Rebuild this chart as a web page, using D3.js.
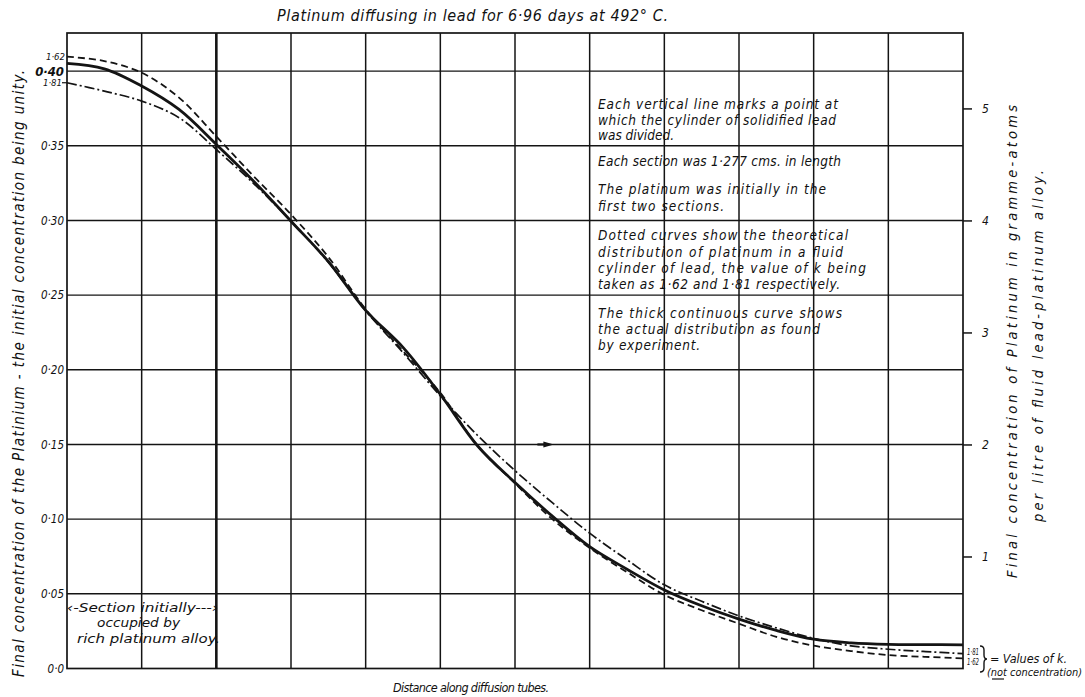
<!DOCTYPE html>
<html><head><meta charset="utf-8">
<script src="https://cdn.jsdelivr.net/npm/d3@7"></script>
<style>
body{margin:0;background:#fff}
svg{display:block}
text{font-family:"DejaVu Sans Condensed","DejaVu Sans","Liberation Sans",Arial,sans-serif;font-style:italic;fill:#111}
</style>
</head><body>
<svg id="c" width="1085" height="697"></svg>
<script>
// ---------- DATA ----------
const sections = [0,0.5,1,1.5,2,2.5,3,3.5,4,4.5,5,5.5,6,6.5,7,7.5,8,8.5,9,9.5,10,10.5,11,11.5,12];
const actual =     [0.4052,0.4015,0.3900,0.3743,0.3509,0.3263,0.2995,0.2725,0.2398,0.2150,0.1835,0.1490,0.1245,0.1020,0.0816,0.0665,0.0526,0.0420,0.0331,0.0255,0.0196,0.0172,0.0162,0.0160,0.0158];
const theoryK162 = [0.4097,0.4067,0.3989,0.3822,0.3562,0.3296,0.3040,0.2755,0.2405,0.2125,0.1846,0.1490,0.1240,0.1000,0.0807,0.0645,0.0493,0.0390,0.0300,0.0212,0.0153,0.0117,0.0090,0.0078,0.0068];
const theoryK181 = [0.3922,0.3866,0.3799,0.3688,0.3475,0.3247,0.2995,0.2720,0.2395,0.2115,0.1825,0.1560,0.1325,0.1110,0.0906,0.0728,0.0560,0.0450,0.0352,0.0272,0.0202,0.0152,0.0129,0.0113,0.0100];
const boundaries = [0,1,2,3,4,5,6,7,8,9,10,11,12];
const initialBoundary = 2;
const leftTicks = [0,0.05,0.10,0.15,0.20,0.25,0.30,0.35,0.40];
const leftTickLabels = ["0·0","0·05","0·10","0·15","0·20","0·25","0·30","0·35","0·40"];
const rightTicks = [1,2,3,4,5];
const rightTickLabels = ["1","2","3","4","5"];
const kLabels = ["1·62","1·81"];
const title = "Platinum  diffusing  in lead for 6·96 days at 492° C.";
const xTitle = "Distance along diffusion tubes.";
const yTitle = "Final concentration of the Platinium - the initial concentration being unity.";
const y2Title = ["Final concentration of Platinum in gramme-atoms","per litre of fluid lead-platinum alloy."];
const notes = [
 "Each vertical line marks a point at",
 "which the cylinder of solidified lead",
 "was divided.",
 "Each section was 1·277 cms. in length",
 "The platinum was initially in the",
 "first two sections.",
 "Dotted curves show the theoretical",
 "distribution of platinum in a fluid",
 "cylinder of lead, the value of k being",
 "taken as 1·62 and 1·81 respectively.",
 "The thick continuous curve shows",
 "the actual distribution as found",
 "by experiment."
];
const sectionNote = ["‹-Section initially---›","occupied by","rich platinum alloy."];
const kNote = ["= Values of k.","(not concentration)"];

// ---------- LAYOUT ----------
const svg = d3.select("#c");
const ink = "#141414";
const yTop = 0.4255;
const x = d3.scaleLinear().domain([0,12]).range([67,963]);
const y = d3.scaleLinear().domain([0,yTop]).range([668.5,33]);
const y2 = d3.scaleLinear().domain([0,yTop*40/3]).range([668.5,33]);

// horizontal grid
svg.append("g").selectAll("line").data(leftTicks.filter(d=>d>0)).join("line")
  .attr("x1",x(0)).attr("x2",x(12))
  .attr("y1",d=>y(d)).attr("y2",d=>y(d))
  .attr("stroke",ink).attr("stroke-width",1.4);
// vertical section lines
svg.append("g").selectAll("line").data(boundaries.filter(d=>d>0&&d<12)).join("line")
  .attr("x1",d=>x(d)).attr("x2",d=>x(d))
  .attr("y1",y(yTop)).attr("y2",y(0))
  .attr("stroke",ink).attr("stroke-width",d=>d===initialBoundary?2.6:1.5);
// frame
svg.append("rect").attr("x",x(0)).attr("y",y(yTop))
  .attr("width",x(12)-x(0)).attr("height",y(0)-y(yTop))
  .attr("fill","none").attr("stroke",ink).attr("stroke-width",1.7);

// left axis labels
const gl = svg.append("g").attr("transform",`translate(${x(0)},0)`)
  .call(d3.axisLeft(y).tickValues(leftTicks).tickFormat((d,i)=>leftTickLabels[i]).tickSize(0).tickPadding(3));
gl.select(".domain").remove();
gl.selectAll("text").style("font-family",'"DejaVu Sans Condensed","DejaVu Sans",sans-serif')
  .style("font-style","italic").style("font-size","11.5px").attr("fill",ink);
gl.selectAll(".tick").filter(d=>d===0.40).select("text").style("font-size","13px").style("font-weight","bold");

// right axis
const gr = svg.append("g").attr("transform",`translate(${x(12)},0)`)
  .call(d3.axisRight(y2).tickValues(rightTicks).tickFormat((d,i)=>rightTickLabels[i]).tickSize(9).tickPadding(10));
gr.select(".domain").remove();
gr.selectAll("line").attr("stroke",ink).attr("stroke-width",1.5);
gr.selectAll("text").style("font-family",'"DejaVu Sans Condensed","DejaVu Sans",sans-serif')
  .style("font-style","italic").style("font-size","12px").attr("fill",ink);

// curves
const line = d3.line().x((d,i)=>x(sections[i])).y(d=>y(d)).curve(d3.curveCatmullRom.alpha(0.5));
svg.append("path").datum(theoryK181).attr("d",line).attr("fill","none")
  .attr("stroke",ink).attr("stroke-width",1.7).attr("stroke-dasharray","10,3,2,3");
svg.append("path").datum(theoryK162).attr("d",line).attr("fill","none")
  .attr("stroke",ink).attr("stroke-width",1.8).attr("stroke-dasharray","7,4");
svg.append("path").datum(actual).attr("d",line).attr("fill","none")
  .attr("stroke",ink).attr("stroke-width",2.8);

// k labels at left
svg.append("text").attr("x",x(0)-2).attr("y",y(theoryK162[0])+3).attr("text-anchor","end")
  .style("font-size","9.5px").text(kLabels[0]);
svg.append("text").attr("x",x(0)-5).attr("y",y(theoryK181[0])+3.5).attr("text-anchor","end")
  .style("font-size","9.5px").text(kLabels[1]);
svg.append("line").attr("x1",x(0)-5).attr("x2",x(0)).attr("y1",y(theoryK181[0])).attr("y2",y(theoryK181[0]))
  .attr("stroke",ink).attr("stroke-width",1.2);

// k labels at right
const last = sections.length-1;
svg.append("text").attr("x",x(12)+4).attr("y",y(theoryK181[last])+1).attr("textLength",12).attr("lengthAdjust","spacingAndGlyphs")
  .style("font-size","9px").text(kLabels[1]);
svg.append("text").attr("x",x(12)+4).attr("y",y(theoryK162[last])+7).attr("textLength",12).attr("lengthAdjust","spacingAndGlyphs")
  .style("font-size","9px").text(kLabels[0]);
svg.append("path").attr("d","M980,646 q4,0 4,4 v5 q0,4 3,4 q-3,0 -3,4 v5 q0,4 -4,4")
  .attr("fill","none").attr("stroke",ink).attr("stroke-width",1.4);
svg.append("text").attr("x",990).attr("y",663).attr("textLength",77).attr("lengthAdjust","spacing")
  .style("font-size","12.5px").text(kNote[0]);
svg.append("text").attr("x",987).attr("y",676).attr("textLength",95).attr("lengthAdjust","spacingAndGlyphs")
  .style("font-size","10px").text(kNote[1]);
svg.append("line").attr("x1",992).attr("x2",1004).attr("y1",679).attr("y2",679).attr("stroke",ink).attr("stroke-width",1.2);

// title
svg.append("text").attr("x",277).attr("y",21).attr("textLength",391).attr("lengthAdjust","spacing")
  .style("font-size","16px").text(title);
// x title
svg.append("text").attr("x",393).attr("y",692).attr("textLength",156).attr("lengthAdjust","spacing")
  .style("font-size","12.5px").text(xTitle);
// left y title
svg.append("text").attr("transform","translate(24,677) rotate(-90)").attr("textLength",607).attr("lengthAdjust","spacing")
  .style("font-size","15px").text(yTitle);
// right y title
svg.append("text").attr("transform","translate(1017,578) rotate(-90)").attr("textLength",473).attr("lengthAdjust","spacing")
  .style("font-size","14.5px").text(y2Title[0]);
svg.append("text").attr("transform","translate(1043,522) rotate(-90)").attr("textLength",352).attr("lengthAdjust","spacing")
  .style("font-size","14.5px").text(y2Title[1]);

// notes block
const noteBase = [109,124.5,140,165.5,194,210.5,239.5,256.5,273,289,318,334,349.5];
const noteLen = [240,238,76,243,228,126,250,245,268,242,244,222,102];
svg.append("g").selectAll("text").data(notes).join("text")
  .attr("x",598).attr("y",(d,i)=>noteBase[i])
  .attr("textLength",(d,i)=>noteLen[i]).attr("lengthAdjust","spacing")
  .style("font-size","13.5px").text(d=>d);

// section note
const secX = [67,97,77], secY=[612,627,643], secL=[151,83,143];
svg.append("g").selectAll("text").data(sectionNote).join("text")
  .attr("x",(d,i)=>secX[i]).attr("y",(d,i)=>secY[i])
  .attr("textLength",(d,i)=>secL[i]).attr("lengthAdjust","spacingAndGlyphs")
  .style("font-size","13px").text(d=>d);

// small arrow mark near 0.15 line
svg.append("path").attr("d",`M${x(6.3)},${y(0.15)} L${x(6.43)},${y(0.15)}`)
  .attr("stroke",ink).attr("stroke-width",2.2);
svg.append("path").attr("d",`M${x(6.38)},${y(0.15)-3} L${x(6.52)},${y(0.15)} L${x(6.38)},${y(0.15)+3} Z`)
  .attr("fill",ink);
</script>
</body></html>
